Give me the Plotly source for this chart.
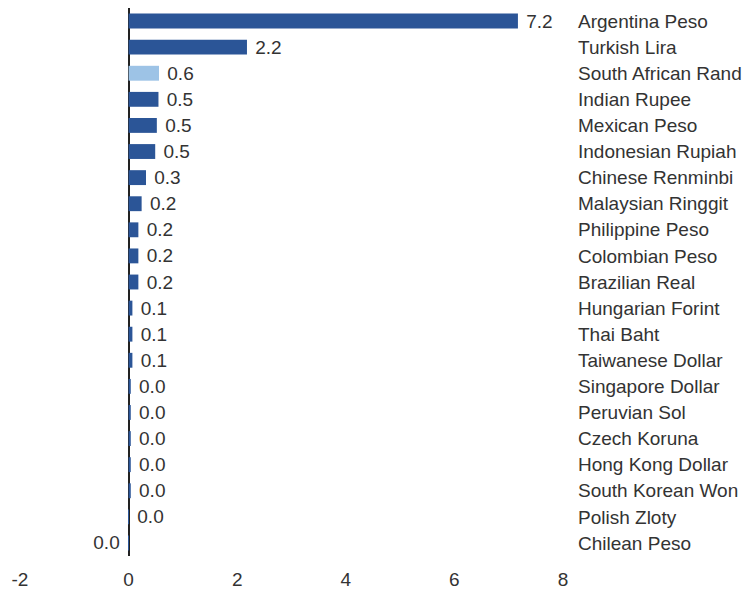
import plotly.graph_objects as go

currencies = ["Argentina Peso", "Turkish Lira", "South African Rand", "Indian Rupee",
              "Mexican Peso", "Indonesian Rupiah", "Chinese Renminbi", "Malaysian Ringgit",
              "Philippine Peso", "Colombian Peso", "Brazilian Real", "Hungarian Forint",
              "Thai Baht", "Taiwanese Dollar", "Singapore Dollar", "Peruvian Sol",
              "Czech Koruna", "Hong Kong Dollar", "South Korean Won", "Polish Zloty",
              "Chilean Peso"]
values = [7.17, 2.18, 0.56, 0.55, 0.52, 0.49, 0.32, 0.24, 0.18, 0.18, 0.18,
          0.07, 0.07, 0.07, 0.04, 0.04, 0.04, 0.04, 0.04, 0.004, -0.004]
value_labels = ["7.2", "2.2", "0.6", "0.5", "0.5", "0.5", "0.3", "0.2", "0.2", "0.2", "0.2",
                "0.1", "0.1", "0.1", "0.0", "0.0", "0.0", "0.0", "0.0", "0.0", "0.0"]
highlight = "South African Rand"
x_ticks = [-2, 0, 2, 4, 6, 8]
x_tick_labels = ["-2", "0", "2", "4", "6", "8"]

DARK = "#2B5597"
LIGHT = "#9DC3E6"
FONT = "Liberation Sans, Arial"
colors = [LIGHT if c == highlight else DARK for c in currencies]
texts = [("\u00a0" + t) if v >= 0 else (t + "\u00a0") for t, v in zip(value_labels, values)]

fig = go.Figure(go.Bar(
    x=values, y=currencies, orientation="h",
    marker=dict(color=colors, line=dict(width=0)),
    width=0.57,
    text=texts, textposition="outside", cliponaxis=False, constraintext="none",
    textfont=dict(family=FONT, size=19, color="#333333"),
))

fig.update_layout(
    width=749, height=591,
    margin=dict(l=20, r=186, t=8, b=35),
    plot_bgcolor="white", paper_bgcolor="white",
    showlegend=False,
    font=dict(family=FONT, size=19, color="#333333"),
    xaxis=dict(range=[-2, 8], tickvals=x_ticks, ticktext=x_tick_labels, showgrid=False,
               zeroline=True, zerolinecolor="#222222", zerolinewidth=1.5,
               showline=False, ticks="", ticklabelstandoff=10, automargin=False,
               tickfont=dict(size=19, color="#333333")),
    yaxis=dict(categoryorder="array", categoryarray=currencies[::-1],
               side="right", showgrid=False, showline=False, ticks="",
               ticklabelstandoff=14, automargin=False,
               tickfont=dict(size=19, color="#333333")),
)

fig.write_html("out.html")
